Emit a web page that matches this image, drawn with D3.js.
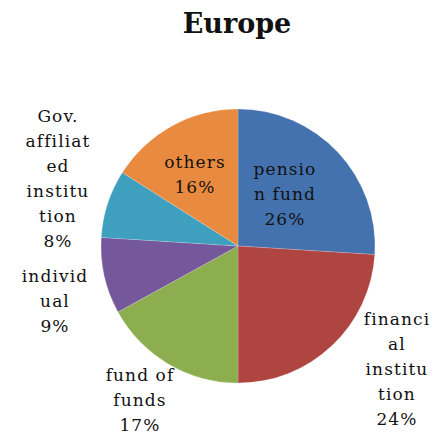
<!DOCTYPE html>
<html>
<head>
<meta charset="utf-8">
<script src="https://cdn.jsdelivr.net/npm/d3@7"></script>
<style>
  html, body { margin: 0; padding: 0; background: #fff; }
  svg { display: block; }
  text { font-family: "DejaVu Serif", "Liberation Serif", serif; fill: #111; }
</style>
</head>
<body>
<script>
// Investor breakdown, Europe (percent of total)
const categories = ["pension fund", "financial institution", "fund of funds", "individual", "Gov. affiliated institution", "others"];
const values = [26, 24, 17, 9, 8, 16];
const colors = ["#4472AE", "#AE4541", "#8DAE4E", "#75589B", "#3E9FBE", "#E88B40"];
// Label text as wrapped inside the chart
const labelLines = [
  ["pensio", "n fund"],
  ["financi", "al", "institu", "tion"],
  ["fund of", "funds"],
  ["individ", "ual"],
  ["Gov.", "affiliat", "ed", "institu", "tion"],
  ["others"]
];
const title = "Europe";

const W = 435, H = 435;
const cx = 238, cy = 246, R = 137;

// Label block anchor: centre x and baseline y of the first line
const labelAnchor = [
  [285, 175],
  [397, 325],
  [140, 381],
  [55, 282],
  [58, 122],
  [195, 168]
];
const lineH = 25;

const svg = d3.select("body").append("svg")
  .attr("width", W).attr("height", H);

svg.append("text")
  .attr("x", 237).attr("y", 33)
  .attr("text-anchor", "middle")
  .style("font-family", "'DejaVu Serif', 'Liberation Serif', serif")
  .style("font-weight", "bold")
  .style("font-size", "27px")
  .text(title);

const pie = d3.pie().sort(null).value(d => d.value);
const arc = d3.arc().innerRadius(0).outerRadius(R);
const data = categories.map((c, i) => ({ name: c, value: values[i], color: colors[i], lines: labelLines[i], anchor: labelAnchor[i] }));

const g = svg.append("g").attr("transform", `translate(${cx},${cy})`);
g.selectAll("path")
  .data(pie(data))
  .join("path")
  .attr("d", arc)
  .attr("fill", d => d.data.color)
  .attr("stroke", "rgba(255,255,255,0.3)")
  .attr("stroke-width", 0.6);

const fmt = d3.format(".0f");
const labels = svg.append("g").selectAll("text")
  .data(data)
  .join("text")
  .attr("text-anchor", "middle")
  .style("font-size", "17px")
  .style("letter-spacing", "1.1px");

labels.each(function(d) {
  const t = d3.select(this);
  const all = d.lines.concat([fmt(d.value) + "%"]);
  all.forEach((ln, k) => {
    t.append("tspan")
      .attr("x", d.anchor[0])
      .attr("y", d.anchor[1] + k * lineH)
      .text(ln);
  });
});
</script>
</body>
</html>
